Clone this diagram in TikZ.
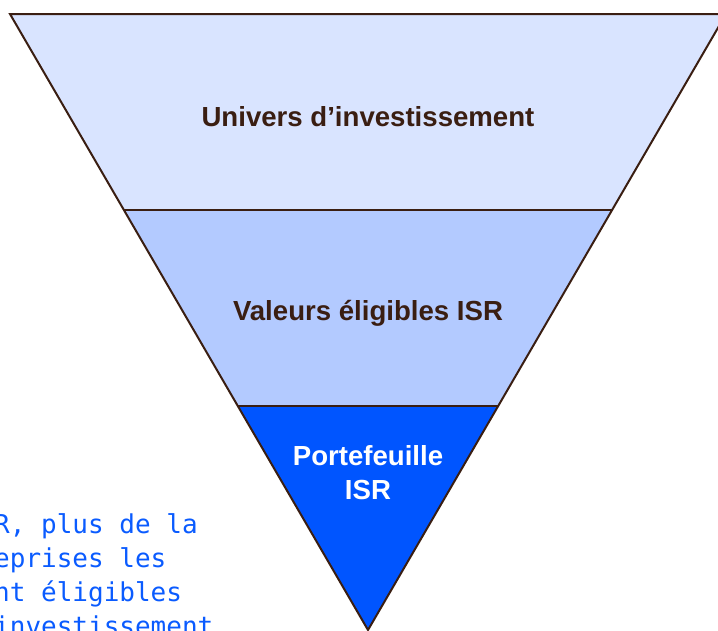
\documentclass[tikz,border=0pt]{standalone}
\usepackage{fontspec}
\setmainfont{Liberation Sans}
\newfontfamily\notefont{DejaVu Sans Mono}
\usetikzlibrary{calc}
\definecolor{bandA}{HTML}{D9E4FF}
\definecolor{bandB}{HTML}{B3CAFF}
\definecolor{bandC}{HTML}{0055FF}
\definecolor{edgecol}{HTML}{3A1E12}
\definecolor{txtcol}{HTML}{3A1E12}
\definecolor{noteblue}{HTML}{0A5BFF}
\begin{document}
\begin{tikzpicture}[x=1pt,y=-1pt,
  edgeline/.style={draw=edgecol,line width=2pt,line join=miter},
  bandlabel/.style={font=\fontsize{27.6}{34}\selectfont\bfseries,text=txtcol,align=center,inner sep=0},
  notetext/.style={font=\notefont\fontsize{26}{34}\selectfont,text=noteblue,anchor=base west,inner sep=0}]
\useasboundingbox (0,0) rectangle (718,630);
\clip (0,0) rectangle (718,630);
\coordinate (TL) at (10,14);
\coordinate (TR) at (726,14);
\coordinate (A) at (368,630);
\coordinate (L1) at ($(TL)!0.31818!(A)$);
\coordinate (R1) at ($(TR)!0.31818!(A)$);
\coordinate (L2) at ($(TL)!0.63636!(A)$);
\coordinate (R2) at ($(TR)!0.63636!(A)$);
\fill[bandA] (TL) -- (TR) -- (R1) -- (L1) -- cycle;
\fill[bandB] (L1) -- (R1) -- (R2) -- (L2) -- cycle;
\fill[bandC] (L2) -- (R2) -- (A) -- cycle;
\draw[edgeline] (L1) -- (R1);
\draw[edgeline] (L2) -- (R2);
\draw[edgeline] (TL) -- (TR) -- (A) -- cycle;
\node[bandlabel] (univ) at (368,117) {Univers d’investissement};
\node[bandlabel] (val) at (368,313) {Valeurs éligibles ISR};
\node[bandlabel,text=white] (port) at (368,473) {Portefeuille\\ISR};
\node[notetext] (n1) at (-6,533) {R, plus de la};
\node[notetext] (n2) at (-6,567) {eprises les};
\node[notetext] (n3) at (-6,601) {nt éligibles};
\node[notetext] (n4) at (-6,635) {investissement};
\end{tikzpicture}
\end{document}
